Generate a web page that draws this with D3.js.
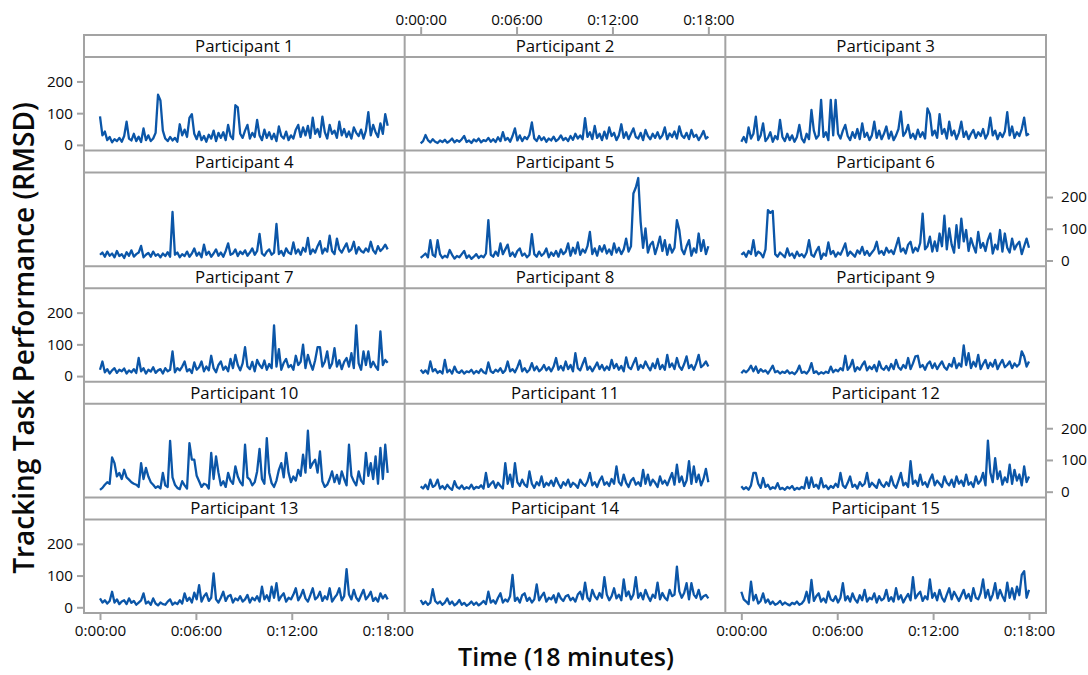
<!DOCTYPE html>
<html>
<head>
<meta charset="utf-8">
<script src="https://cdn.jsdelivr.net/npm/d3@7"></script>
<style>
  html, body { margin: 0; padding: 0; background: #fff; }
  svg { display: block; font-family: "Open Sans", "Noto Sans", sans-serif; }
</style>
</head>
<body>
<svg id="chart" width="1088" height="675"></svg>
<script>
// Panel titles, in reading order (3 per row)
const participants = [
  "Participant 1", "Participant 2", "Participant 3",
  "Participant 4", "Participant 5", "Participant 6",
  "Participant 7", "Participant 8", "Participant 9",
  "Participant 10", "Participant 11", "Participant 12",
  "Participant 13", "Participant 14", "Participant 15"
];

// Session length in seconds and time-axis ticks
const sessionSeconds = 1080;
const timeTicks = [0, 360, 720, 1080];
const timeTickLabels = ["0:00:00", "0:06:00", "0:12:00", "0:18:00"];
const rmsdTicks = [0, 100, 200];

// RMSD samples, evenly spaced over the 18-minute session
const p1 = [90,30,42,15,25,8,18,12,22,10, 28,73,20,14,35,12,26,9,52,15, 30,12,20,38,158,140,45,20,12,25, 14,22,10,65,30,48,25,85,97,35,
  18,42,15,28,10,32,20,45,12,38, 22,40,15,63,28,18,125,118,35,22, 45,63,20,38,25,79,30,15,48,22, 40,18,35,12,58,28,20,42,15,30,
  20,48,63,25,55,30,60,22,86,35, 50,25,89,40,20,63,35,45,22,73, 30,50,25,42,20,55,38,28,48,20, 45,103,30,63,40,25,68,35,97,60];
const p2 = [5,12,31,15,8,18,10,6,14,9, 16,7,12,20,8,15,10,18,28,9, 14,6,17,11,20,8,15,12,22,10, 18,9,24,12,40,15,22,10,28,52,
  14,30,12,25,18,32,71,20,12,28, 15,24,10,20,14,26,12,18,30,15, 22,12,28,16,35,20,30,18,84,25, 40,18,60,22,35,15,42,20,55,28,
  38,15,30,65,22,40,18,35,52,25, 20,38,15,47,28,18,35,22,40,20, 30,55,18,36,25,42,20,58,30,22, 38,18,47,25,32,15,28,44,20,26];
const p3 = [10,25,8,55,20,35,89,15,30,68, 12,22,40,10,28,18,79,25,12,35, 15,30,10,25,63,20,8,35,18,110, 45,20,30,142,25,40,15,142,30,142,
  35,20,45,63,28,15,40,22,50,18, 68,25,38,15,30,73,22,45,18,35, 58,20,42,15,30,50,105,28,40,63, 22,35,18,48,25,40,20,115,97,30,
  45,22,97,35,50,20,73,30,45,18, 38,73,25,42,18,35,47,22,40,28, 50,20,35,86,30,45,18,38,25,42, 103,30,58,22,40,28,50,86,30,35];
const p4 = [18,25,12,28,15,22,10,30,14,20, 8,26,15,32,12,20,25,46,10,18, 24,12,28,15,20,10,22,14,26,12, 153,18,25,10,20,14,28,12,22,38,
  15,25,10,50,18,28,12,22,35,15, 25,12,30,54,18,22,35,14,28,20, 32,15,25,38,18,30,84,22,15,28, 35,18,25,115,20,30,15,38,25,20,
  57,22,35,18,40,28,71,20,35,25, 45,61,22,38,28,78,30,20,69,35, 25,40,54,28,35,59,22,42,30,25, 38,28,59,32,22,45,30,38,50,35];
const p5 = [8,15,22,10,64,18,12,64,20,8, 15,10,33,18,6,14,10,20,30,8, 16,5,12,20,8,15,10,22,127,18, 12,28,15,54,20,35,50,14,25,12,
  30,38,15,22,10,18,83,20,12,28, 15,22,38,10,25,15,30,12,35,20, 28,54,15,40,22,57,18,35,25,45, 90,20,38,15,45,28,48,22,35,18,
  54,25,40,20,35,69,28,45,211,230, 260,122,40,101,25,50,59,20,45,75, 30,64,18,50,25,40,127,96,35,20, 45,64,15,38,25,85,30,64,20,45];
const p6 = [18,25,12,30,20,64,15,28,22,10, 35,159,150,156,20,12,25,18,10,38, 15,22,8,28,14,20,10,25,64,18, 12,30,43,5,22,15,57,20,30,12,
  25,18,35,54,15,28,20,12,32,22, 43,18,30,15,25,35,59,22,30,18, 40,25,32,20,45,71,28,38,22,50, 59,25,40,30,55,148,35,45,75,28,
  60,30,85,45,141,35,101,50,25,111, 40,132,60,96,30,70,45,25,90,40, 55,30,65,85,22,50,35,96,28,85, 40,25,69,35,50,59,20,45,69,40];
const p7 = [20,46,12,22,8,18,25,10,20,15, 24,8,18,12,22,10,57,15,25,8, 20,14,28,10,18,22,8,25,15,20, 78,12,25,18,30,46,15,22,10,43,
  20,28,46,15,30,18,64,25,12,35, 46,20,30,15,54,25,67,35,18,40, 91,30,22,45,15,51,35,25,49,20, 38,25,160,30,85,20,42,54,28,35,
  20,64,35,45,99,25,67,40,20,50, 91,91,30,45,78,25,40,88,30,50, 22,45,57,30,72,25,160,40,20,78, 35,78,28,45,30,20,141,35,51,42];
const p8 = [20,10,18,8,46,15,22,10,16,8, 51,12,20,8,30,14,10,18,8,15, 12,20,8,16,10,22,12,8,43,15, 10,20,14,25,10,18,46,15,22,12,
  28,49,15,25,12,20,41,18,30,15, 22,35,18,28,15,30,57,20,32,18, 46,22,35,15,72,25,18,38,57,20, 30,15,28,43,22,35,18,30,20,51,
  25,38,20,32,15,59,28,22,40,57, 20,35,25,46,30,18,40,25,54,22, 35,20,67,28,40,22,57,30,20,38, 62,25,35,20,40,67,28,35,46,30];
const p9 = [9,18,12,20,33,15,30,10,22,14, 18,8,20,33,12,16,8,14,10,18, 8,12,6,15,33,10,14,8,18,41, 10,15,6,12,8,14,10,30,12,20,
  15,25,18,64,20,30,51,15,28,20, 35,46,18,30,22,35,15,46,25,20, 32,18,38,22,51,28,20,35,25,57, 22,40,62,64,28,35,20,38,46,25,
  40,22,35,46,28,20,38,30,57,25, 40,30,97,35,72,25,45,30,67,22, 38,51,25,42,30,51,22,38,51,28, 35,46,25,40,30,38,78,62,30,46];
const p10 = [6,12,22,30,25,108,90,48,59,40, 69,45,38,30,25,22,15,90,40,75, 48,30,22,12,17,10,59,20,15,160, 45,22,12,8,33,20,10,153,101,101,
  50,33,15,25,22,10,122,40,111,60, 20,33,15,59,35,25,80,48,30,20, 148,45,38,20,30,64,135,40,25,169, 60,27,15,35,69,90,45,122,60,30,
  48,35,69,50,117,60,192,75,90,101, 60,127,33,15,22,40,64,30,53,25, 64,40,20,148,50,33,20,64,35,25, 122,50,90,40,111,25,138,40,148,59];
const p11 = [17,10,22,8,38,15,20,38,10,18, 8,22,12,6,33,15,10,20,8,14, 10,22,8,15,12,20,10,59,15,25, 33,12,28,18,10,90,25,54,15,90,
  30,18,38,22,15,64,25,12,30,20, 48,15,28,20,35,18,43,25,12,30, 20,38,15,28,22,12,38,25,18,32, 59,20,30,15,35,48,22,30,18,40,
  25,80,30,20,54,28,15,35,43,22, 30,18,69,25,54,20,38,28,15,48, 25,35,20,40,59,22,85,30,48,18, 35,96,25,80,30,54,20,40,72,30];
const p12 = [17,8,14,6,20,59,59,25,12,43, 15,22,8,14,10,27,8,12,6,15, 10,18,6,12,8,15,10,45,12,45, 15,22,10,43,14,20,8,18,12,25,
  15,59,20,12,28,48,15,22,10,30, 18,25,59,15,28,20,12,38,22,15, 30,18,48,22,12,35,59,20,28,15, 96,25,35,18,54,22,30,15,38,54,
  20,35,25,15,48,28,20,38,15,48, 25,35,18,54,22,30,15,48,25,35, 59,20,161,60,30,106,40,64,22,45, 30,85,25,69,35,54,20,80,30,48];
const p13 = [28,15,22,12,20,49,15,25,10,18, 22,10,28,14,20,8,15,22,44,12, 18,8,28,12,6,15,10,8,18,25, 8,15,10,22,12,44,20,30,15,46,
  25,70,18,35,44,20,30,107,25,15, 30,49,20,35,39,15,28,22,35,18, 25,39,15,30,22,35,18,65,25,38, 20,65,30,76,22,35,44,18,30,25,
  40,60,22,35,55,28,18,38,60,25, 32,49,20,35,25,60,18,30,40,60, 22,35,120,40,25,55,30,20,38,55, 25,35,49,20,30,18,44,28,39,25];
const p14 = [23,10,18,8,15,57,20,12,18,8, 15,28,10,18,6,12,23,8,14,5, 10,18,8,15,6,12,20,10,49,15, 22,12,30,44,15,25,18,35,102,20,
  30,15,38,44,20,30,15,25,72,22, 35,46,18,30,25,38,15,44,28,20, 35,39,22,30,18,40,49,25,78,30, 20,55,35,25,45,30,95,40,22,35,
  60,28,40,22,88,35,50,25,40,95, 30,45,25,55,35,20,40,30,78,25, 45,30,22,55,35,40,128,50,30,45, 76,25,76,40,30,55,25,35,39,28];
const p15 = [49,25,18,10,81,22,39,12,20,44, 15,25,10,18,8,12,20,8,15,10, 6,14,10,18,8,12,22,49,15,86, 20,35,44,18,28,15,49,25,20,35,
  15,30,76,22,35,18,44,25,15,38, 22,55,18,30,25,44,15,35,22,28, 55,20,32,18,60,25,38,15,30,42, 22,95,28,40,49,20,35,25,88,30,
  45,22,55,30,18,40,60,25,49,35, 20,38,55,28,42,20,60,30,25,45, 88,30,55,22,40,76,28,55,35,20, 78,30,60,25,65,38,102,114,30,55];

const series = [p1, p2, p3, p4, p5, p6, p7, p8, p9, p10, p11, p12, p13, p14, p15];

// ---- layout ----
const frame = { left: 84, right: 1046, top: 35, bottom: 613 };
const nCols = 3, nRows = 5, headerH = 22;
const colW = (frame.right - frame.left) / nCols;
const rowH = (frame.bottom - frame.top) / nRows;
const gridColor = "#a3a3a3";
const lineColor = "#0b56a8";
const textColor = "#0a0a0a";
const tickFont = 15.2;

const svg = d3.select("#chart");
const fmtTime = d => timeTickLabels[timeTicks.indexOf(d)];

const panelX = c => {
  const x0 = frame.left + c * colW;
  return d3.scaleLinear().domain([0, sessionSeconds]).range([x0 + 16, x0 + colW - 17]);
};
const panelY = r => {
  const y0 = frame.top + r * rowH;
  return d3.scaleLinear().domain([-18, 277]).range([y0 + rowH, y0 + headerH]);
};

// frame: outer box, column dividers, row dividers and header strips
const grid = svg.append("g").attr("stroke", gridColor).attr("stroke-width", 2).attr("fill", "none");
grid.append("rect")
  .attr("x", frame.left).attr("y", frame.top)
  .attr("width", frame.right - frame.left).attr("height", frame.bottom - frame.top);
for (let c = 1; c < nCols; c++) {
  const xv = frame.left + c * colW;
  grid.append("line").attr("x1", xv).attr("x2", xv).attr("y1", frame.top).attr("y2", frame.bottom);
}
for (let r = 0; r < nRows; r++) {
  const y0 = frame.top + r * rowH;
  grid.append("line").attr("x1", frame.left).attr("x2", frame.right).attr("y1", y0).attr("y2", y0);
  grid.append("line").attr("x1", frame.left).attr("x2", frame.right).attr("y1", y0 + headerH).attr("y2", y0 + headerH);
}

// panels
series.forEach((vals, k) => {
  const r = Math.floor(k / nCols), c = k % nCols;
  const x = panelX(c), y = panelY(r);
  const y0 = frame.top + r * rowH;
  const step = sessionSeconds / (vals.length - 1);
  const pts = vals.map((v, i) => [i * step, v]);

  svg.append("text")
    .attr("x", frame.left + c * colW + colW / 2)
    .attr("y", y0 + 17)
    .attr("text-anchor", "middle")
    .attr("font-size", 16.8)
    .attr("fill", textColor)
    .text(participants[k]);

  svg.append("path")
    .datum(pts)
    .attr("fill", "none")
    .attr("stroke", lineColor)
    .attr("stroke-width", 2.3)
    .attr("stroke-linejoin", "round")
    .attr("d", d3.line().x(d => x(d[0])).y(d => y(d[1])));
});

function styleAxis(g) {
  g.select(".domain").remove();
  g.selectAll(".tick line").attr("stroke", gridColor).attr("stroke-width", 2);
  g.selectAll(".tick text").attr("fill", textColor).attr("font-size", tickFont)
    .attr("font-family", '"Open Sans", "Noto Sans", sans-serif');
}

// RMSD axes: left on rows 1, 3, 5; right on rows 2, 4
[0, 2, 4].forEach(r => {
  svg.append("g").attr("transform", `translate(${frame.left},0)`)
    .call(d3.axisLeft(panelY(r)).tickValues(rmsdTicks).tickSize(7).tickPadding(4))
    .call(styleAxis);
});
[1, 3].forEach(r => {
  svg.append("g").attr("transform", `translate(${frame.right},0)`)
    .call(d3.axisRight(panelY(r)).tickValues(rmsdTicks).tickSize(7).tickPadding(8))
    .call(styleAxis);
});

// time axes: top over the middle column, bottom under the outer columns
svg.append("g").attr("transform", `translate(0,${frame.top})`)
  .call(d3.axisTop(panelX(1)).tickValues(timeTicks).tickFormat(fmtTime).tickSize(8).tickPadding(2))
  .call(styleAxis);
[0, 2].forEach(c => {
  svg.append("g").attr("transform", `translate(0,${frame.bottom})`)
    .call(d3.axisBottom(panelX(c)).tickValues(timeTicks).tickFormat(fmtTime).tickSize(7).tickPadding(5))
    .call(styleAxis);
});

// axis titles
svg.append("text")
  .attr("transform", `translate(34,338) rotate(-90)`)
  .attr("text-anchor", "middle")
  .attr("font-size", 28)
  .attr("font-weight", 600)
  .attr("fill", textColor)
  .text("Tracking Task Performance (RMSD)");

svg.append("text")
  .attr("x", 566).attr("y", 666)
  .attr("text-anchor", "middle")
  .attr("font-size", 25)
  .attr("font-weight", 600)
  .attr("fill", textColor)
  .text("Time (18 minutes)");
</script>
</body>
</html>
